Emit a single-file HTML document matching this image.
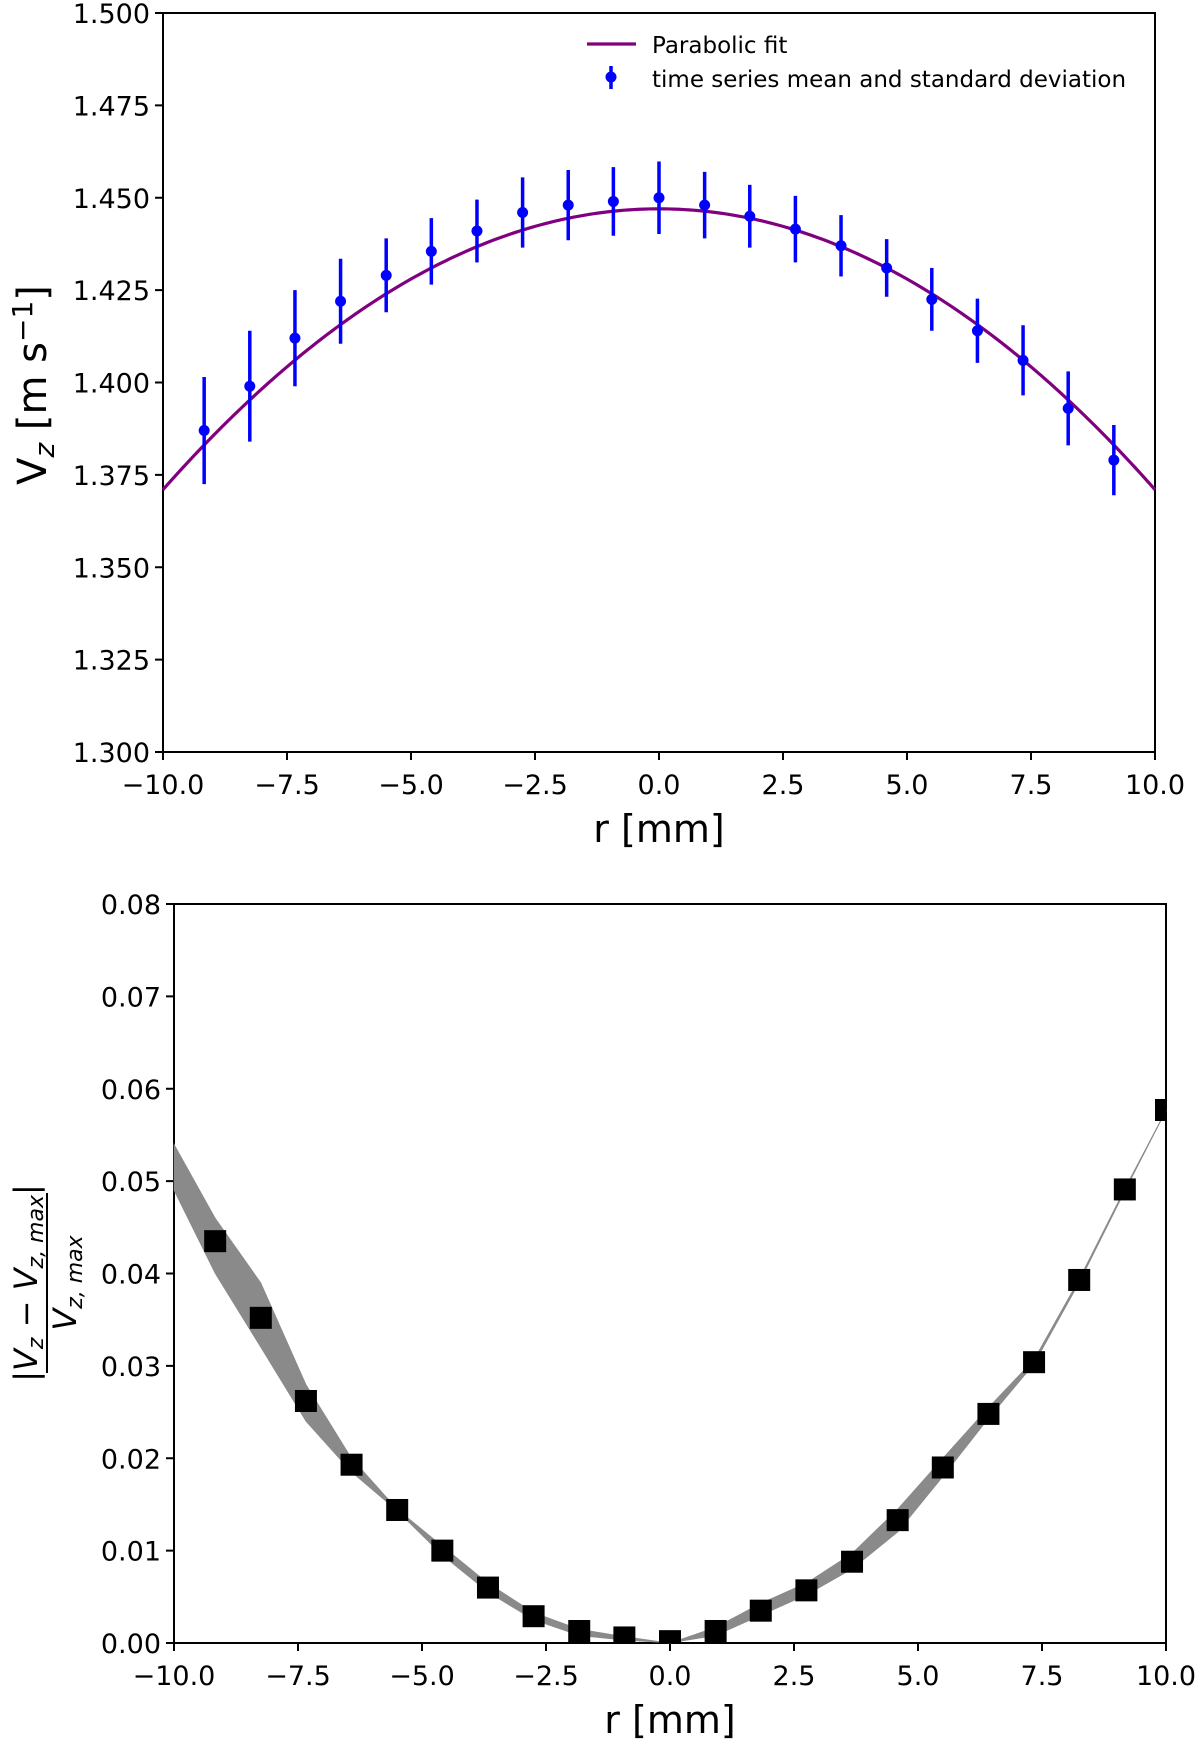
<!DOCTYPE html>
<html><head><meta charset="utf-8"><style>
html,body{margin:0;padding:0;background:#fff;}
svg{display:block;font-family:"DejaVu Sans","Liberation Sans",sans-serif;}
</style></head><body>
<svg id="fig" width="1200" height="1747" viewBox="0 0 1200 1747" xmlns="http://www.w3.org/2000/svg">
<g id="top"></g>
<g id="bot"></g>
</svg>
<script>
const rPts = [-9.17,-8.25,-7.34,-6.42,-5.5,-4.59,-3.67,-2.75,-1.83,-0.92,0,0.92,1.83,2.75,3.67,4.59,5.5,6.42,7.34,8.25,9.17];
const vMean = [1.387,1.399,1.412,1.422,1.429,1.4355,1.441,1.446,1.448,1.449,1.450,1.448,1.445,1.4415,1.437,1.431,1.4225,1.414,1.406,1.393,1.379];
const vStd = [0.0145,0.015,0.013,0.0115,0.010,0.009,0.0085,0.0095,0.0095,0.0093,0.0098,0.009,0.0085,0.009,0.0083,0.0078,0.0085,0.0087,0.0095,0.010,0.0095];
const fitPeak = 1.447;
const fitCoef = 0.00076;
const topYTicks = [1.300,1.325,1.350,1.375,1.400,1.425,1.450,1.475,1.500];
const xTicks = [-10,-7.5,-5,-2.5,0,2.5,5,7.5,10];
const xTickLabels = ["\u221210.0","\u22127.5","\u22125.0","\u22122.5","0.0","2.5","5.0","7.5","10.0"];

const dR = [-9.17,-8.25,-7.34,-6.42,-5.5,-4.59,-3.67,-2.75,-1.83,-0.92,0,0.92,1.83,2.75,3.67,4.59,5.5,6.42,7.34,8.25,9.17,10];
const dVal = [0.0435,0.0352,0.0262,0.0193,0.0144,0.0100,0.0060,0.0029,0.0013,0.0006,0.0002,0.0013,0.0035,0.0057,0.0088,0.0133,0.0190,0.0248,0.0304,0.0393,0.0491,0.0577];
const bandR = [-10,-9.17,-8.25,-7.34,-6.42,-5.5,-4.59,-3.67,-2.75,-1.83,-0.92,0,0.92,1.83,2.75,3.67,4.59,5.5,6.42,7.34,8.25,9.17,10];
const bandLo = [0.049,0.040,0.032,0.024,0.0185,0.0143,0.0095,0.0055,0.0025,0.0008,0.0003,0,0.0008,0.0030,0.0052,0.0080,0.0120,0.0180,0.0243,0.0302,0.0390,0.0489,0.0576];
const bandHi = [0.054,0.046,0.039,0.028,0.020,0.0145,0.0105,0.0065,0.0033,0.0015,0.0007,0,0.0017,0.0043,0.0065,0.0097,0.0145,0.0200,0.0255,0.0307,0.0394,0.0492,0.0577];
const botYTicks = [0,0.01,0.02,0.03,0.04,0.05,0.06,0.07,0.08];
const botYLabels = ["0.00","0.01","0.02","0.03","0.04","0.05","0.06","0.07","0.08"];

const NS="http://www.w3.org/2000/svg";
function mk(parent,tag,attrs,text){const e=document.createElementNS(NS,tag);for(const k in attrs)e.setAttribute(k,attrs[k]);if(text!==undefined)e.textContent=text;parent.appendChild(e);return e;}

function axes(g,L,R,T,B,xmin,xmax,ymin,ymax,yT,yL,name){
  const sx=v=>L+(v-xmin)/(xmax-xmin)*(R-L);
  const sy=v=>B-(v-ymin)/(ymax-ymin)*(B-T);
  const fr=mk(g,'rect',{x:L,y:T,width:R-L,height:B-T,fill:'none',stroke:'#000','stroke-width':2});
  
  
  xTicks.forEach((v,i)=>{
    const x=sx(v);
    const t=mk(g,'line',{x1:x,x2:x,y1:B,y2:B+8,stroke:'#000','stroke-width':2});
    
    
    const l=mk(g,'text',{x:x,y:B+42,'font-size':27,'text-anchor':'middle'},xTickLabels[i]);
    
    
  });
  yT.forEach((v,i)=>{
    const y=sy(v);
    const t=mk(g,'line',{x1:L-8,x2:L,y1:y,y2:y,stroke:'#000','stroke-width':2});
    
    
    const l=mk(g,'text',{x:L-13,y:y+10,'font-size':27,'text-anchor':'end'},yL[i]);
    
    
  });
  const xl=mk(g,'text',{x:(L+R)/2,y:B+90,'font-size':38,'text-anchor':'middle'},'r [mm]');
  
  
  return {sx,sy};
}

// TOP
const gt=document.getElementById('top');
const T1={L:163,R:1155,T:13,B:752};
const a1=axes(gt,T1.L,T1.R,T1.T,T1.B,-10,10,1.3,1.5,topYTicks,topYTicks.map(v=>v.toFixed(3)),'top');
let d='';
for(let i=0;i<=200;i++){const r=-10+20*i/200;const v=fitPeak-fitCoef*r*r;d+=(i?'L':'M')+a1.sx(r).toFixed(2)+','+a1.sy(v).toFixed(2);}
const fit=mk(gt,'path',{d:d,fill:'none',stroke:'#800080','stroke-width':3.2});


rPts.forEach((r,i)=>{
  const x=a1.sx(r);
  const eb=mk(gt,'line',{x1:x,x2:x,y1:a1.sy(vMean[i]-vStd[i]),y2:a1.sy(vMean[i]+vStd[i]),stroke:'#0000ff','stroke-width':3.5});
  
  
  const c=mk(gt,'circle',{cx:x,cy:a1.sy(vMean[i]),r:5.5,fill:'#0000ff'});
  
  
});
const yl1=mk(gt,'text',{transform:'translate(46,385) rotate(-90)','font-size':40,'text-anchor':'middle'});


yl1.innerHTML='V<tspan font-size="28" font-style="italic" dy="8">z</tspan><tspan dy="-8"> [m s</tspan><tspan font-size="28" dy="-14">\u22121</tspan><tspan dy="14">]</tspan>';
const lg=mk(gt,'g',{});


const ll=mk(lg,'line',{x1:587,x2:636,y1:44,y2:44,stroke:'#800080','stroke-width':3.2});


const lt1=mk(lg,'text',{x:652,y:53,'font-size':23},'Parabolic fit');


const le=mk(lg,'line',{x1:611,x2:611,y1:66,y2:89,stroke:'#0000ff','stroke-width':3.5});


const lc=mk(lg,'circle',{cx:611,cy:77,r:5.5,fill:'#0000ff'});


const lt2=mk(lg,'text',{x:652,y:87,'font-size':23},'time series mean and standard deviation');



// BOTTOM
const gb=document.getElementById('bot');
const B1={L:174,R:1166,T:904,B:1643};
const a2=axes(gb,B1.L,B1.R,B1.T,B1.B,-10,10,0,0.08,botYTicks,botYLabels,'bottom');
let bd='';
bandR.forEach((r,i)=>{bd+=(i?'L':'M')+a2.sx(r).toFixed(2)+','+a2.sy(bandHi[i]).toFixed(2);});
for(let i=bandR.length-1;i>=0;i--){bd+='L'+a2.sx(bandR[i]).toFixed(2)+','+a2.sy(bandLo[i]).toFixed(2);}
bd+='Z';
const band=mk(gb,'path',{d:bd,fill:'#8a8a8a',stroke:'#8a8a8a','stroke-width':0.6});


const clip=mk(gb,'clipPath',{id:'bclip'});
mk(clip,'rect',{x:B1.L,y:B1.T,width:B1.R-B1.L,height:B1.B-B1.T});
const mg=mk(gb,'g',{'clip-path':'url(#bclip)'});
dR.forEach((r,i)=>{
  const s=22;
  const m=mk(mg,'rect',{x:a2.sx(r)-s/2,y:a2.sy(dVal[i])-s/2,width:s,height:s,fill:'#000'});
  
  
});
const yl=mk(gb,'g',{transform:'translate(47,1283) rotate(-90)'});


mk(yl,'line',{x1:-90,x2:90,y1:0,y2:0,stroke:'#000','stroke-width':2});
const num=mk(yl,'text',{x:0,y:-10,'font-size':32,'text-anchor':'middle'});
num.innerHTML='|<tspan font-style="italic">V</tspan><tspan font-style="italic" font-size="22" dy="6">z</tspan><tspan dy="-6"> \u2212 </tspan><tspan font-style="italic">V</tspan><tspan font-style="italic" font-size="22" dy="6">z, max</tspan><tspan dy="-6">|</tspan>';
const den=mk(yl,'text',{x:0,y:29,'font-size':32,'text-anchor':'middle'});
den.innerHTML='<tspan font-style="italic">V</tspan><tspan font-style="italic" font-size="22" dy="6">z, max</tspan>';
</script>
</body></html>
